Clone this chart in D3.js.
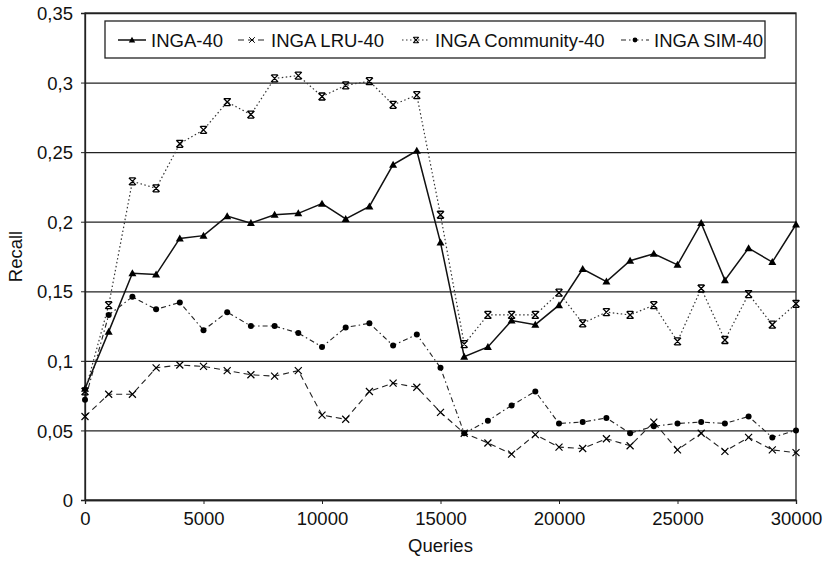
<!DOCTYPE html>
<html>
<head>
<meta charset="utf-8">
<title>Recall vs Queries</title>
<script src="https://d3js.org/d3.v7.min.js"></script>
<style>
  body { margin: 0; background: #fff; }
  text { font-family: "Liberation Sans", Arial, sans-serif; fill: #111; }
</style>
</head>
<body>
<svg id="chart" width="824" height="562"></svg>
<script>
// data, queries every 1000
const queries = d3.range(0, 30001, 1000)
const inga = [0.080, 0.121, 0.163, 0.162, 0.188, 0.190, 0.204, 0.199, 0.205, 0.206,
  0.213, 0.202, 0.211, 0.241, 0.251, 0.185, 0.103, 0.110, 0.129, 0.126,
  0.140, 0.166, 0.157, 0.172, 0.177, 0.169, 0.199, 0.158, 0.181, 0.171, 0.198]
const ingaLru = [0.060, 0.076, 0.076, 0.095, 0.097, 0.096, 0.093, 0.090, 0.089, 0.093,
  0.061, 0.058, 0.078, 0.084, 0.081, 0.063, 0.048, 0.041, 0.033, 0.047,
  0.038, 0.037, 0.044, 0.039, 0.056, 0.036, 0.048, 0.035, 0.045, 0.036, 0.034]
const ingaCommunity = [0.078, 0.140, 0.229, 0.224, 0.256, 0.266, 0.286, 0.277, 0.303, 0.305,
  0.290, 0.298, 0.301, 0.284, 0.291, 0.205, 0.112, 0.133, 0.133, 0.133,
  0.149, 0.127, 0.135, 0.133, 0.140, 0.114, 0.152, 0.115, 0.148, 0.126, 0.141]
const ingaSim = [0.072, 0.133, 0.146, 0.137, 0.142, 0.122, 0.135, 0.125, 0.125, 0.120,
  0.110, 0.124, 0.127, 0.111, 0.119, 0.095, 0.048, 0.057, 0.068, 0.078,
  0.055, 0.056, 0.059, 0.048, 0.053, 0.055, 0.056, 0.055, 0.060, 0.045, 0.050]

const seriesNames = ["INGA-40", "INGA LRU-40", "INGA Community-40", "INGA SIM-40"]
const yTicks = [0, 0.05, 0.1, 0.15, 0.2, 0.25, 0.3, 0.35]
const xTicks = [0, 5000, 10000, 15000, 20000, 25000, 30000]

const svg = d3.select("#chart")
const margin = { top: 13, right: 28, bottom: 62, left: 85 }
const width = +svg.attr("width")
const height = +svg.attr("height")
const innerWidth = width - margin.left - margin.right
const innerHeight = height - margin.top - margin.bottom
const fontSize = 18.5

const xScale = d3.scaleLinear().domain([0, 30000]).range([0, innerWidth])
const yScale = d3.scaleLinear().domain([0, 0.35]).range([innerHeight, 0])

const g = svg.append("g")
  .attr("transform", `translate(${margin.left},${margin.top})`)

// gridlines
g.append("g")
  .call(d3.axisLeft(yScale).tickValues(yTicks).tickSize(-innerWidth).tickFormat(""))
  .call(s => s.select(".domain").remove())
  .selectAll("line").attr("stroke", "#222").attr("stroke-width", 1.3)

// box
g.append("rect")
  .attr("width", innerWidth).attr("height", innerHeight)
  .attr("fill", "none").attr("stroke", "#222").attr("stroke-width", 1.3)

const yAxis = d3.axisLeft(yScale).tickValues(yTicks).tickSize(4).tickPadding(8)
  .tickFormat(d => String(+d.toFixed(2)).replace(".", ","))
const xAxis = d3.axisBottom(xScale).tickValues(xTicks).tickSize(4).tickPadding(8)
  .tickFormat(d3.format("d"))

g.append("g").call(yAxis)
  .call(s => s.select(".domain").attr("stroke", "#222").attr("stroke-width", 1.3))
  .call(s => s.selectAll("line").attr("stroke", "#222"))
  .selectAll("text").attr("font-size", fontSize).attr("dy", "0.36em")
g.append("g").attr("transform", `translate(0,${innerHeight})`).call(xAxis)
  .call(s => s.select(".domain").attr("stroke", "#222").attr("stroke-width", 1.3))
  .call(s => s.selectAll("line").attr("stroke", "#222"))
  .selectAll("text").attr("font-size", fontSize)

svg.append("text")
  .attr("x", margin.left + innerWidth / 2).attr("y", 552)
  .attr("text-anchor", "middle").attr("font-size", fontSize)
  .text("Queries")
svg.append("text")
  .attr("transform", `translate(22,${margin.top + innerHeight / 2}) rotate(-90)`)
  .attr("text-anchor", "middle").attr("font-size", fontSize)
  .text("Recall")

const styles = [
  { values: inga, dash: null, color: "#111", width: 1.5, marker: "triangle" },
  { values: ingaLru, dash: "6,4", color: "#222", width: 1.1, marker: "x" },
  { values: ingaCommunity, dash: "1.5,2.5", color: "#333", width: 1.2, marker: "star" },
  { values: ingaSim, dash: "5,3,1.5,3", color: "#222", width: 1.1, marker: "dot" }
]

const drawMarker = (sel, type) => {
  if (type === "triangle") {
    sel.append("path").attr("d", "M0,-4L4,3L-4,3Z").attr("fill", "#000")
  } else if (type === "x") {
    sel.append("path").attr("d", "M-3.5,-3.5L3.5,3.5M-3.5,3.5L3.5,-3.5")
      .attr("stroke", "#000").attr("stroke-width", 1.2)
  } else if (type === "star") {
    sel.append("path").attr("d", "M-3.5,-3.5L3.5,3.5M-3.5,3.5L3.5,-3.5M-3,-3.5H3M-3,3.5H3")
      .attr("stroke", "#000").attr("stroke-width", 1.3)
  } else {
    sel.append("circle").attr("r", 3).attr("fill", "#000")
  }
}

const line = d3.line().x((d, i) => xScale(queries[i])).y(d => yScale(d))

styles.forEach(s => {
  g.append("path")
    .datum(s.values)
    .attr("d", line)
    .attr("fill", "none")
    .attr("stroke", s.color)
    .attr("stroke-width", s.width)
    .attr("stroke-dasharray", s.dash)
  g.selectAll(null)
    .data(s.values)
    .enter()
    .append("g")
    .attr("transform", (d, i) => `translate(${xScale(queries[i])},${yScale(d)})`)
    .each(function () { drawMarker(d3.select(this), s.marker) })
})

// legend
const legend = svg.append("g")
legend.append("rect")
  .attr("x", 105).attr("y", 21).attr("width", 660).attr("height", 37)
  .attr("fill", "#fff").attr("stroke", "#222").attr("stroke-width", 1.3)
const legendX = [118, 238, 402, 621]
styles.forEach((s, i) => {
  const item = legend.append("g").attr("transform", `translate(${legendX[i]},40)`)
  item.append("line")
    .attr("x1", 0).attr("x2", 28)
    .attr("stroke", s.color).attr("stroke-width", s.width)
    .attr("stroke-dasharray", s.dash)
  item.append("g").attr("transform", "translate(14,0) scale(0.8)")
    .call(m => drawMarker(m, s.marker))
  item.append("text")
    .attr("x", 33).attr("y", 6.5).attr("font-size", fontSize)
    .text(seriesNames[i])
})
</script>
</body>
</html>
